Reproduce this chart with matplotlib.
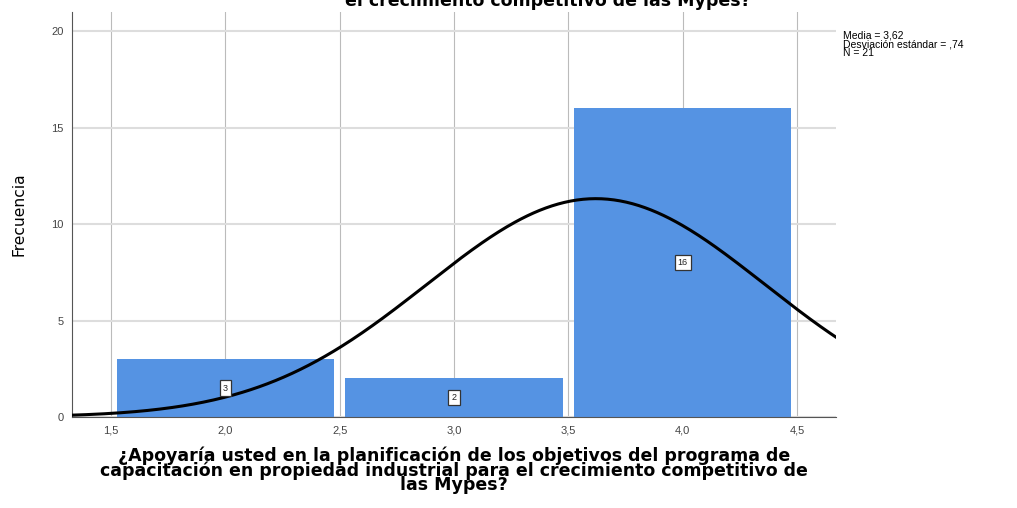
import numpy as np
import matplotlib
matplotlib.use("Agg")
import matplotlib.pyplot as plt

plt.rcParams['font.family'] = ['Liberation Sans', 'DejaVu Sans']

bin_edges = [1.5, 2.5, 3.5, 4.5]
counts = [3, 2, 16]
mean = 3.62
sd = 0.74
n = 21
x_ticks = [1.5, 2.0, 2.5, 3.0, 3.5, 4.0, 4.5]
x_tick_labels = ["1,5", "2,0", "2,5", "3,0", "3,5", "4,0", "4,5"]
y_ticks = [0, 5, 10, 15, 20]

fig = plt.figure(figsize=(10.17, 5.08), dpi=100)
ax = fig.add_axes([72/1017, 1 - 417/508, 764/1017, 405/508])

centers = [(a + b) / 2 for a, b in zip(bin_edges[:-1], bin_edges[1:])]
widths = [b - a for a, b in zip(bin_edges[:-1], bin_edges[1:])]
ax.bar(centers, counts, width=[w * 0.95 for w in widths], color='#5593E3',
       edgecolor='none', zorder=2)

for c, v in zip(centers, counts):
    ax.text(c, v / 2, str(v), ha='center', va='center', fontsize=6.5, zorder=4,
            color='#222222',
            bbox=dict(boxstyle='square,pad=0.35', fc='white', ec='#333333', lw=0.9))

xs = np.linspace(1.2, 4.8, 400)
ys = n * 1.0 / (sd * np.sqrt(2 * np.pi)) * np.exp(-0.5 * ((xs - mean) / sd) ** 2)
ax.plot(xs, ys, color='black', lw=2.2, zorder=3)

ax.set_xlim(1.33, 4.67)
ax.set_ylim(0, 21)
ax.set_xticks(x_ticks)
ax.set_xticklabels(x_tick_labels)
ax.set_yticks(y_ticks)
ax.tick_params(axis='both', length=0, labelsize=8, colors='#444444', pad=6)
ax.grid(axis='x', color='#BBBBBB', lw=0.8, zorder=0)
ax.grid(axis='y', color='#DDDDDD', lw=1.5, zorder=0)
for s in ['top', 'right']:
    ax.spines[s].set_visible(False)
for s in ['left', 'bottom']:
    ax.spines[s].set_color('#555555')
    ax.spines[s].set_linewidth(0.8)

ax.set_ylabel('Frecuencia', fontsize=11.2, family='DejaVu Sans', labelpad=18)
ax.set_xlabel('¿Apoyaría usted en la planificación de los objetivos del programa de\n'
              'capacitación en propiedad industrial para el crecimiento competitivo de\n'
              'las Mypes?', fontsize=12.5, fontweight='bold', family='DejaVu Sans',
              linespacing=0.75, labelpad=8)

fig.text(548/1017, 1 - 6.5/508, 'el crecimiento competitivo de las Mypes?', ha='center',
         va='baseline', fontsize=12.5, fontweight='bold', family='DejaVu Sans')

fig.text(843/1017, 1 - 31/508, 'Media = 3,62\nDesviación estándar = ,74\nN = 21',
         ha='left', va='top', fontsize=7.5, linespacing=0.8)

fig.savefig('out.png', dpi=100)
